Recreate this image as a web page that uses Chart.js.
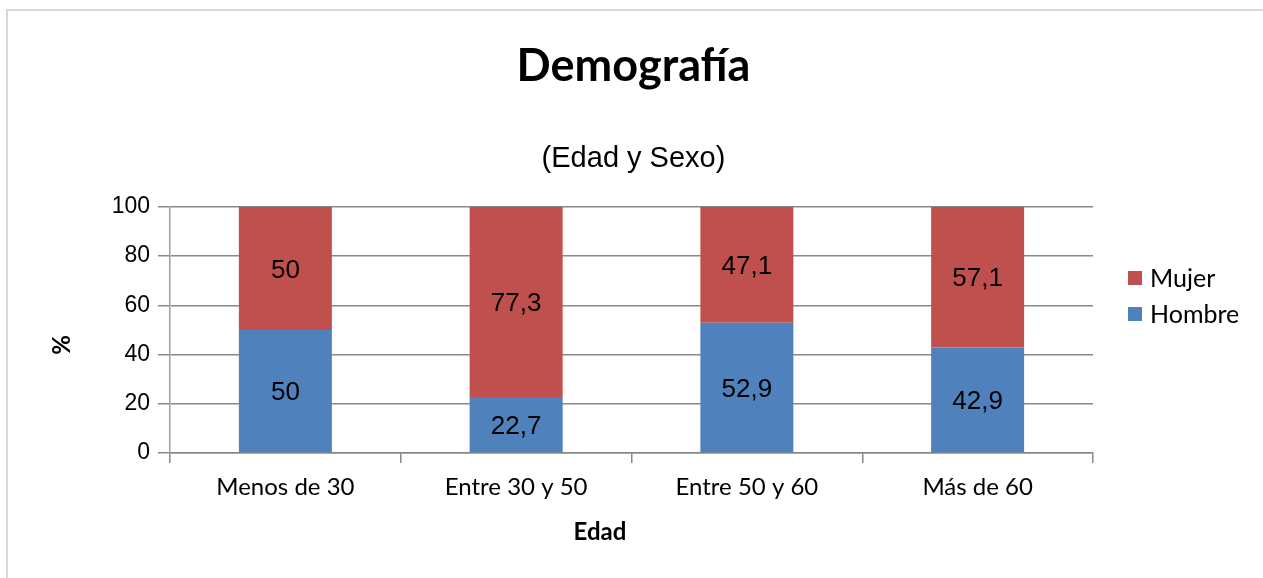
<!DOCTYPE html>
<html>
<head>
<meta charset="utf-8">
<script src="https://cdn.jsdelivr.net/npm/chart.js@4/dist/chart.umd.min.js"></script>
<style>
  html, body { margin: 0; padding: 0; background: #fff; overflow: hidden; }
  #wrap { position: relative; width: 1263px; height: 578px; }
  #frame { position: absolute; left: 6px; top: 9px; width: 1300px; height: 600px;
           border-top: 2px solid #d9d9d9; border-left: 2px solid #d9d9d9; pointer-events: none; }
</style>
</head>
<body>
<div id="wrap">
  <canvas id="c" width="1263" height="578"></canvas>
  <div id="frame"></div>
</div>
<script>
const categories = ["Menos de 30", "Entre 30 y 50", "Entre 50 y 60", "Más de 60"];
const hombre = [50, 22.7, 52.9, 42.9];
const mujer = [50, 77.3, 47.1, 57.1];
const yTicks = [0, 20, 40, 60, 80, 100];
const xTitle = "Edad";
const yTitle = "%";

const BLUE = "#4F81BD";
const RED = "#C0504D";
const GRID = "#888888";
const CAL = "Lato, 'Open Sans', sans-serif";
const ARI = "'Liberation Sans', Arial, sans-serif";

const dataLabels = {
  id: "dataLabels",
  afterDatasetsDraw(chart) {
    const ctx = chart.ctx;
    ctx.save();
    ctx.font = "26px " + ARI;
    ctx.fillStyle = "#000";
    ctx.textAlign = "center";
    ctx.textBaseline = "middle";
    chart.data.datasets.forEach((ds, i) => {
      const meta = chart.getDatasetMeta(i);
      meta.data.forEach((bar, j) => {
        const v = ds.data[j];
        const txt = String(v).replace(".", ",");
        ctx.fillText(txt, bar.x, (bar.y + bar.base) / 2 + 2);
      });
    });
    ctx.restore();
  }
};

const extras = {
  id: "extras",
  afterDraw(chart) {
    const ctx = chart.ctx;
    ctx.save();
    // legend
    const items = chart.data.datasets.slice().reverse();
    const x0 = 1128, y0 = 278, step = 36, box = 14;
    ctx.font = "25px " + CAL;
    ctx.textBaseline = "middle";
    ctx.textAlign = "left";
    items.forEach((ds, k) => {
      const cy = y0 + k * step;
      ctx.fillStyle = ds.backgroundColor;
      ctx.fillRect(x0, cy - box / 2, box, box);
      ctx.fillStyle = "#000";
      ctx.fillText(ds.label, x0 + 22, cy + 1);
    });
    // axis titles
    ctx.font = "bold 24px " + CAL;
    ctx.textAlign = "center";
    ctx.fillText(xTitle, 600, 532);
    ctx.translate(62, 345);
    ctx.rotate(-Math.PI / 2);
    ctx.fillText(yTitle, 0, 0);
    ctx.restore();
  }
};

new Chart(document.getElementById("c"), {
  type: "bar",
  data: {
    labels: categories,
    datasets: [
      { label: "Hombre", data: hombre, backgroundColor: BLUE, barPercentage: 0.403, categoryPercentage: 1 },
      { label: "Mujer", data: mujer, backgroundColor: RED, barPercentage: 0.403, categoryPercentage: 1 }
    ]
  },
  options: {
    responsive: false,
    animation: false,
    layout: { padding: { left: 4, right: 0, top: 0, bottom: 0 } },
    plugins: {
      legend: { display: false },
      tooltip: { enabled: false },
      title: {
        display: true,
        text: "Demografía",
        color: "#000",
        font: { family: CAL, size: 45, weight: "bold", lineHeight: 1.2 },
        padding: { top: 39, bottom: 0 }
      },
      subtitle: {
        display: true,
        text: "(Edad y Sexo)",
        color: "#000",
        font: { family: ARI, size: 29, weight: "normal", lineHeight: 1.2 },
        padding: { top: 49, bottom: 30 }
      }
    },
    scales: {
      x: {
        stacked: true,
        afterFit(scale) { scale.height = 125; },
        grid: { display: true, drawOnChartArea: false, drawTicks: true, tickLength: 10, offset: true, color: GRID, lineWidth: 1.5 },
        border: { display: true, color: GRID, width: 1.5 },
        ticks: { color: "#000", padding: 10, font: { family: CAL, size: 24 } }
      },
      y: {
        stacked: true,
        min: 0, max: 100,
        afterFit(scale) { scale.width = 166; },
        afterBuildTicks(scale) { scale.ticks = yTicks.map(v => ({ value: v })); },
        grid: { color: GRID, lineWidth: 1.5, tickLength: 12, drawTicks: true },
        border: { display: true, color: "#a0a0a0", width: 1.5 },
        ticks: { color: "#000", padding: 8, font: { family: ARI, size: 23 } }
      },
      legendSpace: {
        type: "linear",
        position: "right",
        display: true,
        afterFit(scale) { scale.width = 170; },
        grid: { display: false, drawTicks: false },
        border: { display: false },
        ticks: { display: false }
      }
    }
  },
  plugins: [dataLabels, extras]
});
</script>
</body>
</html>
